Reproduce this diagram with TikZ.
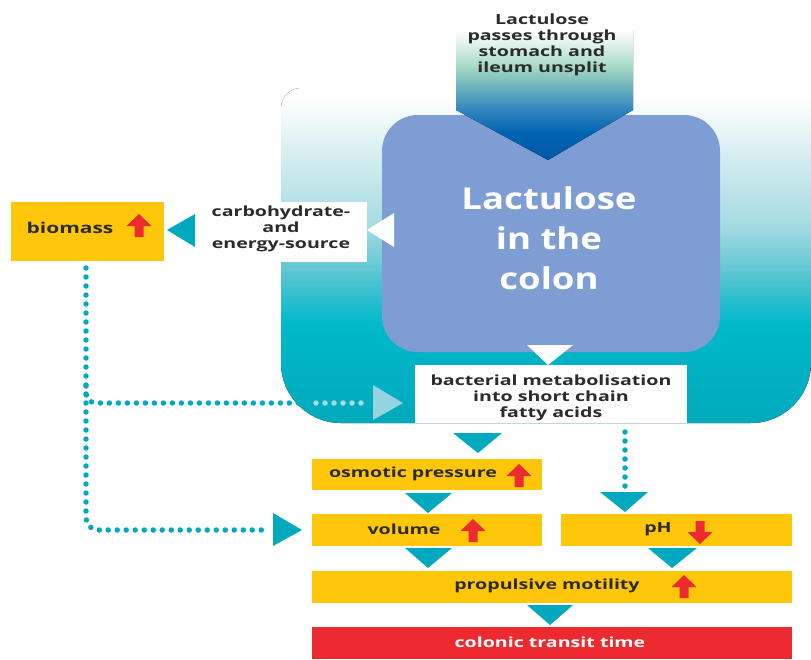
\documentclass[tikz,border=0pt]{standalone}
\usepackage{fontspec}
\setmainfont{Open Sans}
\newfontfamily\smf{Open Sans}[FakeStretch=1.4]
\newfontfamily\bgf{Open Sans}[FakeStretch=1.22]
\usetikzlibrary{calc}
\definecolor{teal1}{HTML}{00A9BE}
\definecolor{yel}{HTML}{FFC60A}
\definecolor{redc}{HTML}{EC2A30}
\definecolor{bluebox}{HTML}{7E9ED3}
\definecolor{txt}{HTML}{2B2B2B}
\definecolor{lightt}{HTML}{95D3DE}
\definecolor{lightd}{HTML}{A6DAE2}
\definecolor{bgA}{HTML}{00A9BC}
\definecolor{bgB}{HTML}{00B9CA}
\definecolor{bgC}{HTML}{5CC5D2}
\definecolor{bgD}{HTML}{A3DAE2}
\definecolor{bgE}{HTML}{D5EEF1}
\definecolor{arA}{HTML}{0058A8}
\definecolor{arB}{HTML}{0064B2}
\definecolor{arC}{HTML}{3185BD}
\definecolor{arD}{HTML}{6CB3BE}
\definecolor{arE}{HTML}{A5D8C6}
\definecolor{arF}{HTML}{DDF1EA}
\pgfdeclareverticalshading{bgshade}{100bp}{color(0bp)=(bgA); color(25bp)=(bgA); color(40bp)=(bgB); color(47.5bp)=(bgC); color(54.25bp)=(bgD); color(65bp)=(bgE); color(73.5bp)=(white); color(100bp)=(white)}
\pgfdeclareverticalshading{arrshade}{100bp}{color(0bp)=(arA); color(25bp)=(arA); color(35.4bp)=(arB); color(44.2bp)=(arC); color(53bp)=(arD); color(60.8bp)=(arE); color(69.2bp)=(arF); color(75bp)=(white); color(100bp)=(white)}
\tikzset{
  box/.style={inner sep=0pt, outer sep=0pt, draw=none},
  ybox/.style={box, fill=yel},
  lbl/.style={inner sep=0pt, text=txt, font=\smf\bfseries\fontsize{14}{16}\selectfont, align=center},
  tri/.style={fill=teal1},
  dots/.style={draw=teal1, line width=5.5pt, line cap=round, dash pattern=on 0pt off 9pt},
  pics/uparr/.style={code={\fill[redc] (0,-12) -- (12.5,0) -- (4.5,0) -- (4.5,11) -- (-4.5,11) -- (-4.5,0) -- (-12.5,0) -- cycle;}},
  pics/downarr/.style={code={\fill[redc] (0,12) -- (12.5,0) -- (4.5,0) -- (4.5,-11) -- (-4.5,-11) -- (-4.5,0) -- (-12.5,0) -- cycle;}}
}
\begin{document}
\begin{tikzpicture}[x=1pt,y=-1pt]
\useasboundingbox (0,0) rectangle (811,659);
\clip (0,0) rectangle (811,659);
% background colon shape
\fill[shading=bgshade] (281,108) arc[start angle=180, end angle=270, radius=20] -- (811,88) -- (811,363) arc[start angle=0, end angle=90, radius=60] -- (341,423) arc[start angle=90, end angle=180, radius=60] -- cycle;
% central box
\node[box, fill=bluebox, rounded corners=36pt, minimum width=338pt, minimum height=237pt] (colon) at (551,233.5) {};
\node[inner sep=0pt, text=white, font=\bgf\bfseries\fontsize{30}{40}\selectfont, align=center] (colontext) at (549,238) {Lactulose\\in the\\colon};
% top arrow
\fill[shading=arrshade] (456,30) -- (633,30) -- (633,110) -- (548,160) -- (456,110) -- cycle;
\node[lbl] (toptext) at (542,45) {Lactulose\\passes through\\stomach and\\ileum unsplit};
% carbohydrate box
\node[box, fill=white, minimum width=171pt, minimum height=60pt] (carbo) at (281.5,232) {};
\node[lbl] (carbotext) at (281,229) {carbohydrate-\\and\\energy-source};
\fill[white] (394,213) -- (394,247) -- (367,230) -- cycle;
% biomass
\node[ybox, minimum width=153pt, minimum height=59pt] (biomass) at (87.5,231.5) {};
\node[lbl, font=\smf\bfseries\fontsize{15}{16}\selectfont] (biotext) at (70,228) {biomass};
\pic at (139,226) {uparr};
\fill[tri] (195,214) -- (195,247) -- (167,230) -- cycle;
% bacterial metabolisation
\fill[white] (527,345) -- (573,345) -- (548,365) -- cycle;
\node[box, fill=white, minimum width=272pt, minimum height=58pt] (bact) at (551,394) {};
\node[lbl] (bacttext) at (551,398) {bacterial metabolisation\\into short chain\\fatty acids};
% dotted connectors
\coordinate (d0) at (86,268);
\coordinate (dv) at (268,530);
\coordinate (db) at (307,403);
\draw[dots, rounded corners=12pt] (d0) |- (dv);
\draw[dots, rounded corners=10pt] (86,386) |- (db);
\draw[dots, draw=lightd] (316,403) -- (367,403);
\fill[lightt] (373,385) -- (373,420) -- (403,403) -- cycle;
\fill[tri] (273,513) -- (273,546) -- (302,530) -- cycle;
\draw[dots] (625,432) -- (625,488);
% lower boxes
\node[ybox, minimum width=230pt, minimum height=31pt] (osm) at (427,474.5) {};
\node[lbl] (osmtext) at (413,474) {osmotic pressure};
\pic at (519,476) {uparr};
\node[ybox, minimum width=230pt, minimum height=32pt] (vol) at (427,530) {};
\node[lbl] (voltext) at (404,529) {volume};
\pic at (473,531) {uparr};
\node[ybox, minimum width=231pt, minimum height=32pt] (ph) at (676.5,530) {};
\node[lbl] (phtext) at (658,529) {pH};
\pic at (700,532) {downarr};
\node[ybox, minimum width=480pt, minimum height=32pt] (prop) at (552,587) {};
\node[lbl] (proptext) at (547,586) {propulsive motility};
\pic at (684,587) {uparr};
\node[box, fill=redc, minimum width=480pt, minimum height=32pt] (colonic) at (552,643) {};
\node[lbl, text=white] (colonictext) at (550,642) {colonic transit time};
% triangles
\fill[tri] (453,433) -- (502,433) -- (478,453) -- cycle;
\fill[tri] (405,493) -- (452,493) -- (428,513) -- cycle;
\fill[tri] (600,492) -- (648,492) -- (625,512) -- cycle;
\fill[tri] (405,548) -- (452,548) -- (428,568) -- cycle;
\fill[tri] (648,548) -- (697,548) -- (672,568) -- cycle;
\fill[tri] (527,605) -- (573,605) -- (550,625) -- cycle;
\end{tikzpicture}
\end{document}
